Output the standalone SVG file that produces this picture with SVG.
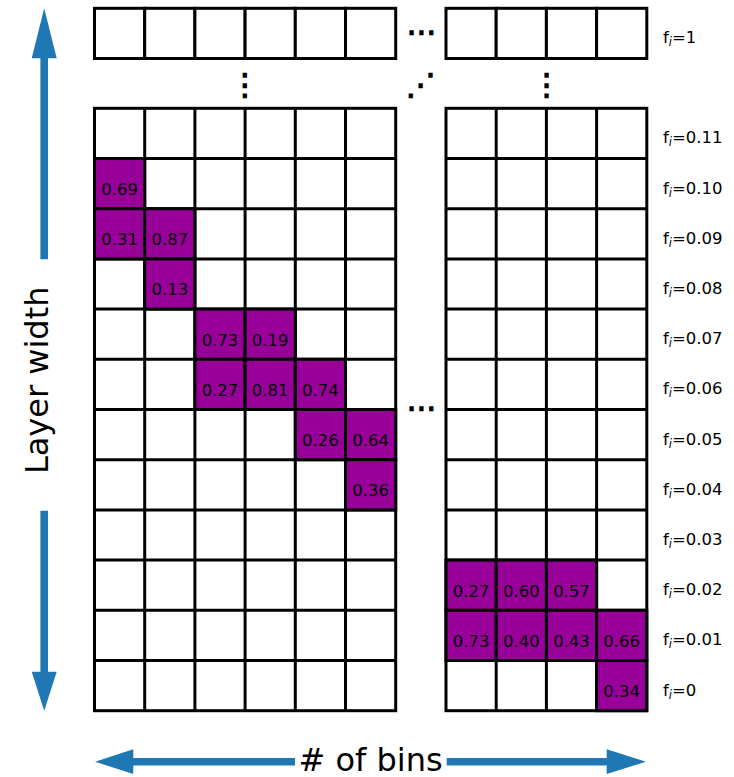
<svg xmlns="http://www.w3.org/2000/svg" width="734" height="777" viewBox="0 0 734 777">
<style>
.c{fill:#fff;stroke:#000;stroke-width:3}
.p{fill:#990099;stroke:#000;stroke-width:3}
.v{font-family:"DejaVu Sans",sans-serif;font-size:16.5px;fill:#000;text-anchor:middle}
.l{font-family:"DejaVu Sans",sans-serif;font-size:16.5px;fill:#000}
.s{font-style:italic;font-size:11.5px}
.d{font-family:"DejaVu Sans",sans-serif;font-size:30px;fill:#000;stroke:#000;stroke-width:1.2;text-anchor:middle}
.a{fill:#1f77b4}
.t{font-family:"DejaVu Sans",sans-serif;font-size:32px;fill:#000;text-anchor:middle}
</style>
<rect width="734" height="777" fill="#fff"/>
<g id="top-row-left">
<rect class="c" x="94.5" y="8.3" width="50.2" height="50.2"/><rect class="c" x="144.7" y="8.3" width="50.2" height="50.2"/><rect class="c" x="194.9" y="8.3" width="50.2" height="50.2"/><rect class="c" x="245.1" y="8.3" width="50.2" height="50.2"/><rect class="c" x="295.3" y="8.3" width="50.2" height="50.2"/><rect class="c" x="345.5" y="8.3" width="50.2" height="50.2"/>
</g>
<g id="top-row-right">
<rect class="c" x="446" y="8.3" width="50.2" height="50.2"/><rect class="c" x="496.2" y="8.3" width="50.2" height="50.2"/><rect class="c" x="546.4" y="8.3" width="50.2" height="50.2"/><rect class="c" x="596.6" y="8.3" width="50.2" height="50.2"/>
</g>
<g id="grid-left">
<rect class="c" x="94.5" y="108.3" width="301.2" height="602.4"/>
<path d="M144.7 108.3V710.7M194.9 108.3V710.7M245.1 108.3V710.7M295.3 108.3V710.7M345.5 108.3V710.7M94.5 158.5H395.7M94.5 208.7H395.7M94.5 258.9H395.7M94.5 309.1H395.7M94.5 359.3H395.7M94.5 409.5H395.7M94.5 459.7H395.7M94.5 509.9H395.7M94.5 560.1H395.7M94.5 610.3H395.7M94.5 660.5H395.7" fill="none" stroke="#000" stroke-width="3"/>
</g>
<g id="grid-right">
<rect class="c" x="446" y="108.3" width="200.8" height="602.4"/>
<path d="M496.2 108.3V710.7M546.4 108.3V710.7M596.6 108.3V710.7M446 158.5H646.8M446 208.7H646.8M446 258.9H646.8M446 309.1H646.8M446 359.3H646.8M446 409.5H646.8M446 459.7H646.8M446 509.9H646.8M446 560.1H646.8M446 610.3H646.8M446 660.5H646.8" fill="none" stroke="#000" stroke-width="3"/>
</g>
<g id="cell-010-0"><rect class="p" x="94.5" y="158.5" width="50.2" height="50.2"/><text class="v" x="119.6" y="195">0.69</text></g>
<g id="cell-009-0"><rect class="p" x="94.5" y="208.7" width="50.2" height="50.2"/><text class="v" x="119.6" y="245.2">0.31</text></g>
<g id="cell-009-1"><rect class="p" x="144.7" y="208.7" width="50.2" height="50.2"/><text class="v" x="169.8" y="245.2">0.87</text></g>
<g id="cell-008-1"><rect class="p" x="144.7" y="258.9" width="50.2" height="50.2"/><text class="v" x="169.8" y="295.4">0.13</text></g>
<g id="cell-007-2"><rect class="p" x="194.9" y="309.1" width="50.2" height="50.2"/><text class="v" x="220" y="345.6">0.73</text></g>
<g id="cell-007-3"><rect class="p" x="245.1" y="309.1" width="50.2" height="50.2"/><text class="v" x="270.2" y="345.6">0.19</text></g>
<g id="cell-006-2"><rect class="p" x="194.9" y="359.3" width="50.2" height="50.2"/><text class="v" x="220" y="395.8">0.27</text></g>
<g id="cell-006-3"><rect class="p" x="245.1" y="359.3" width="50.2" height="50.2"/><text class="v" x="270.2" y="395.8">0.81</text></g>
<g id="cell-006-4"><rect class="p" x="295.3" y="359.3" width="50.2" height="50.2"/><text class="v" x="320.4" y="395.8">0.74</text></g>
<g id="cell-005-4"><rect class="p" x="295.3" y="409.5" width="50.2" height="50.2"/><text class="v" x="320.4" y="446">0.26</text></g>
<g id="cell-005-5"><rect class="p" x="345.5" y="409.5" width="50.2" height="50.2"/><text class="v" x="370.6" y="446">0.64</text></g>
<g id="cell-004-5"><rect class="p" x="345.5" y="459.7" width="50.2" height="50.2"/><text class="v" x="370.6" y="496.2">0.36</text></g>
<g id="cell-002-r0"><rect class="p" x="446" y="560.1" width="50.2" height="50.2"/><text class="v" x="471.1" y="596.6">0.27</text></g>
<g id="cell-002-r1"><rect class="p" x="496.2" y="560.1" width="50.2" height="50.2"/><text class="v" x="521.3" y="596.6">0.60</text></g>
<g id="cell-002-r2"><rect class="p" x="546.4" y="560.1" width="50.2" height="50.2"/><text class="v" x="571.5" y="596.6">0.57</text></g>
<g id="cell-001-r0"><rect class="p" x="446" y="610.3" width="50.2" height="50.2"/><text class="v" x="471.1" y="646.8">0.73</text></g>
<g id="cell-001-r1"><rect class="p" x="496.2" y="610.3" width="50.2" height="50.2"/><text class="v" x="521.3" y="646.8">0.40</text></g>
<g id="cell-001-r2"><rect class="p" x="546.4" y="610.3" width="50.2" height="50.2"/><text class="v" x="571.5" y="646.8">0.43</text></g>
<g id="cell-001-r3"><rect class="p" x="596.6" y="610.3" width="50.2" height="50.2"/><text class="v" x="621.7" y="646.8">0.66</text></g>
<g id="cell-000-r3"><rect class="p" x="596.6" y="660.5" width="50.2" height="50.2"/><text class="v" x="621.7" y="697">0.34</text></g>
<g id="ellipses">
<text class="d" x="421.7" y="42">⋯</text>
<text class="d" x="421.7" y="418">⋯</text>
<text class="d" x="245" y="95">⋮</text>
<text class="d" x="546.7" y="95">⋮</text>
<text class="d" x="421" y="95">⋰</text>
</g>
<g id="labels">
<text class="l" x="663" y="43.4">f<tspan class="s" dy="3">i</tspan><tspan dy="-3">=1</tspan></text>
<text class="l" x="663" y="143.4">f<tspan class="s" dy="3">i</tspan><tspan dy="-3">=0.11</tspan></text>
<text class="l" x="663" y="193.6">f<tspan class="s" dy="3">i</tspan><tspan dy="-3">=0.10</tspan></text>
<text class="l" x="663" y="243.8">f<tspan class="s" dy="3">i</tspan><tspan dy="-3">=0.09</tspan></text>
<text class="l" x="663" y="294">f<tspan class="s" dy="3">i</tspan><tspan dy="-3">=0.08</tspan></text>
<text class="l" x="663" y="344.2">f<tspan class="s" dy="3">i</tspan><tspan dy="-3">=0.07</tspan></text>
<text class="l" x="663" y="394.4">f<tspan class="s" dy="3">i</tspan><tspan dy="-3">=0.06</tspan></text>
<text class="l" x="663" y="444.6">f<tspan class="s" dy="3">i</tspan><tspan dy="-3">=0.05</tspan></text>
<text class="l" x="663" y="494.8">f<tspan class="s" dy="3">i</tspan><tspan dy="-3">=0.04</tspan></text>
<text class="l" x="663" y="545">f<tspan class="s" dy="3">i</tspan><tspan dy="-3">=0.03</tspan></text>
<text class="l" x="663" y="595.2">f<tspan class="s" dy="3">i</tspan><tspan dy="-3">=0.02</tspan></text>
<text class="l" x="663" y="645.4">f<tspan class="s" dy="3">i</tspan><tspan dy="-3">=0.01</tspan></text>
<text class="l" x="663" y="695.6">f<tspan class="s" dy="3">i</tspan><tspan dy="-3">=0</tspan></text>
</g>
<g id="connectors">
<polygon class="a" points="40.4,259.3 48,259.3 48,58.3 56.7,58.3 44.2,8.3 31.7,58.3 40.4,58.3"/>
<polygon class="a" points="40.4,510.7 48,510.7 48,671.7 56.7,671.7 44.2,710.7 31.7,671.7 40.4,671.7"/>
<polygon class="a" points="295,757.9 295,765.5 133.3,765.5 133.3,774 95,761.7 133.3,749.3 133.3,757.9"/>
<polygon class="a" points="446.7,757.9 446.7,765.5 606.7,765.5 606.7,774 646,761.7 606.7,749.3 606.7,757.9"/>
</g>
<g id="axis-titles">
<text class="t" x="370.6" y="770.5"># of bins</text>
<text class="t" transform="translate(48.3,380.3) rotate(-90)">Layer width</text>
</g>
</svg>
